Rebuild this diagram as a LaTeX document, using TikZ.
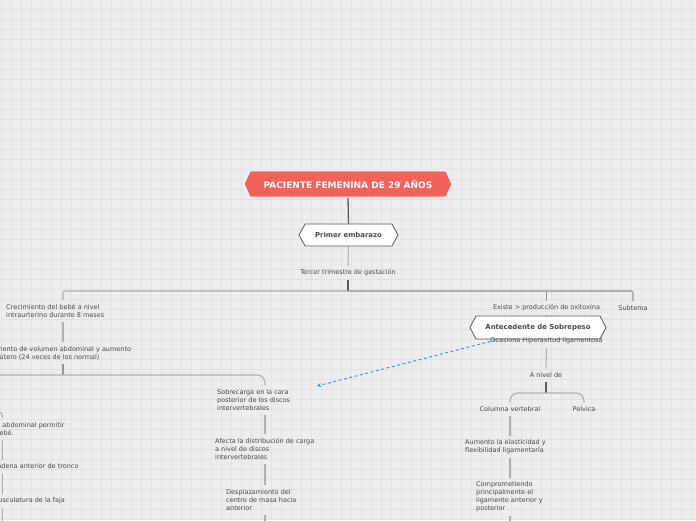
\documentclass[tikz,border=0pt]{standalone}
\usepackage{fontspec}
\setmainfont{DejaVu Sans}
\usetikzlibrary{shapes.symbols,arrows.meta}
\definecolor{bg}{HTML}{EDEDED}
\definecolor{gridc}{HTML}{E2E2E2}
\definecolor{coral}{HTML}{F2615A}
\definecolor{txt}{HTML}{4A4A4A}
\definecolor{dark}{HTML}{5A5A5A}
\definecolor{lgray}{HTML}{B0B0B0}
\definecolor{mgray}{HTML}{959595}
\definecolor{arrowblue}{HTML}{3C8DE0}
\pgfdeclarelayer{back}
\pgfdeclarelayer{lines}
\pgfsetlayers{back,lines,main}
\begin{document}
\begin{tikzpicture}[x=1pt,y=-1pt,
  hexmain/.style={signal, signal to=west and east, signal pointer angle=130, fill=coral, draw=white, line width=0.8pt, minimum width=208pt, minimum height=26pt, inner sep=0pt, text=white, font=\fontsize{9}{10}\selectfont\bfseries},
  hexsub/.style={signal, signal to=west and east, signal pointer angle=122, fill=white, draw=dark, line width=0.8pt, minimum height=22pt, inner sep=0pt, text=txt, font=\fontsize{6.9}{8}\selectfont\bfseries},
  lbl/.style={inner xsep=0pt, inner ysep=4pt, text=txt, font=\fontsize{6.5}{8}\selectfont},
  lblL/.style={lbl, align=left, anchor=west},
  lblC/.style={lbl, align=center},
  conn/.style={draw=lgray, line width=1.1pt},
  connm/.style={draw=mgray, line width=1.1pt},
  connd/.style={draw=dark, line width=1.3pt},
  dasharrow/.style={draw=arrowblue, line width=0.9pt, dash pattern=on 3pt off 2.5pt, -{Stealth[length=4pt,width=4pt]}},
]
\useasboundingbox (0,0) rectangle (696,520);
\clip (0,0) rectangle (696,520);
\begin{pgfonlayer}{back}
\fill[bg] (0,0) rectangle (696,520);
\foreach \x in {1,11,...,691} \draw[gridc, line width=0.6pt] (\x,0) -- (\x,520);
\foreach \y in {9,19,...,519} \draw[gridc, line width=0.6pt] (0,\y) -- (696,\y);
\end{pgfonlayer}

% axes and junctions
\coordinate (axA) at (63,0);
\coordinate (axB) at (265,0);
\coordinate (axC) at (2.5,0);
\coordinate (offL) at (-40,0);
\coordinate (j1) at (348,291);
\coordinate (j2) at (63,375);
\coordinate (j3) at (546,393);
\coordinate (j4) at (2.5,412);
\coordinate (bot1) at (265,530);
\coordinate (bot2) at (2.5,530);
\coordinate (bot3) at (510,530);
\coordinate (arrS) at (496,340);
\coordinate (arrE) at (317,386);

% nodes
\node[hexmain] (title) at (348,184) {PACIENTE FEMENINA DE 29 AÑOS};
\node[hexsub, minimum width=99pt] (prim) at (348.5,235) {Primer embarazo};
\node[lblC] (ter) at (348,273) {Tercer trimestre de gestación};
\node[lblL] (cres) at (6,311) {Crecimiento del bebé a nivel\\intraurterino durante 8 meses};
\node[lblL] (vol) at (-12.5,353) {Aumento de volumen abdominal y aumento\\del útero (24 veces de los normal)};
\node[lblL] (sob) at (217,400) {Sobrecarga en la cara\\posterior de los discos\\intervertebrales};
\node[lblL] (afe) at (215,449) {Afecta la distribución de carga\\a nivel de discos\\intervertebrales};
\node[lblL] (des) at (226,500) {Desplazamiento del\\centro de masa hacia\\anterior};
\node[lblL] (dis) at (-65,429) {Distensión de pared abdominal permitir\\el crecimiento del bebé.};
\node[lblL] (cad) at (-62,467) {Elongación de la cadena anterior de tronco};
\node[lblL] (mus) at (-59,501) {Debilidad de la musculatura de la faja};
\node[lblC] (exi) at (546.5,308) {Existe > producción de oxitoxina};
\node[lblC] (sub) at (633,308) {Subtema};
\node[hexsub, minimum width=136pt, signal pointer angle=125, minimum height=23pt] (ant) at (538,327.5) {Antecedente de Sobrepeso};
\node[lblC] (oca) at (546.5,341) {Ocasiona Hiperaxitud ligamentosa};
\node[lblC] (niv) at (546,375) {A nivel de};
\node[lblC] (col) at (510,409) {Columna vertebral};
\node[lblC] (pel) at (584,409) {Pelvica};
\node[lblL] (aue) at (465,447) {Aumento la elasticidad y\\flexibilidad ligamentaria};
\node[lblL] (com) at (476,497) {Comprometiendo\\principalmente el\\ligamento anterior y\\posterior};

% connectors
\begin{pgfonlayer}{lines}
\draw[connd] (title.south) -- (prim.north);
\draw[conn] (prim.south) -- (ter.north);
\draw[connd] (ter.south) -- (j1);
\draw[conn, rounded corners=2] (cres.north -| axA) |- (j1);
\draw[connm, rounded corners=2] (j1) -| (sub.north);
\draw[connm] (j1 -| exi) -- (exi.north);
\draw[conn] (exi.south) -- (oca.north);
\draw[conn] (cres.south -| axA) -- (vol.north -| axA);
\draw[connm] (vol.south -| axA) -- (j2);
\draw[conn, rounded corners=8] (j2 -| offL) -- (j2) -| (sob.north -| axB);
\draw[conn] (sob.south -| axB) -- (afe.north -| axB);
\draw[conn] (afe.south -| axB) -- (des.north -| axB);
\draw[conn] (des.south -| axB) -- (bot1);
\draw[conn, rounded corners=4] (j4 -| offL) -- (j4) -- (dis.north -| axC);
\draw[conn] (dis.south -| axC) -- (cad.north -| axC);
\draw[conn] (cad.south -| axC) -- (mus.north -| axC);
\draw[conn] (mus.south -| axC) -- (bot2);
\draw[conn] (oca.south) -- (niv.north);
\draw[connd] (niv.south) -- (j3);
\draw[conn, rounded corners=8] (col.north) |- (j3) -| (pel.north);
\draw[conn] (col.south) -- (aue.north -| col);
\draw[conn] (aue.south -| col) -- (com.north -| col);
\draw[conn] (com.south -| col) -- (bot3);
\end{pgfonlayer}
\draw[dasharrow] (arrS) -- (arrE);
\end{tikzpicture}
\end{document}
